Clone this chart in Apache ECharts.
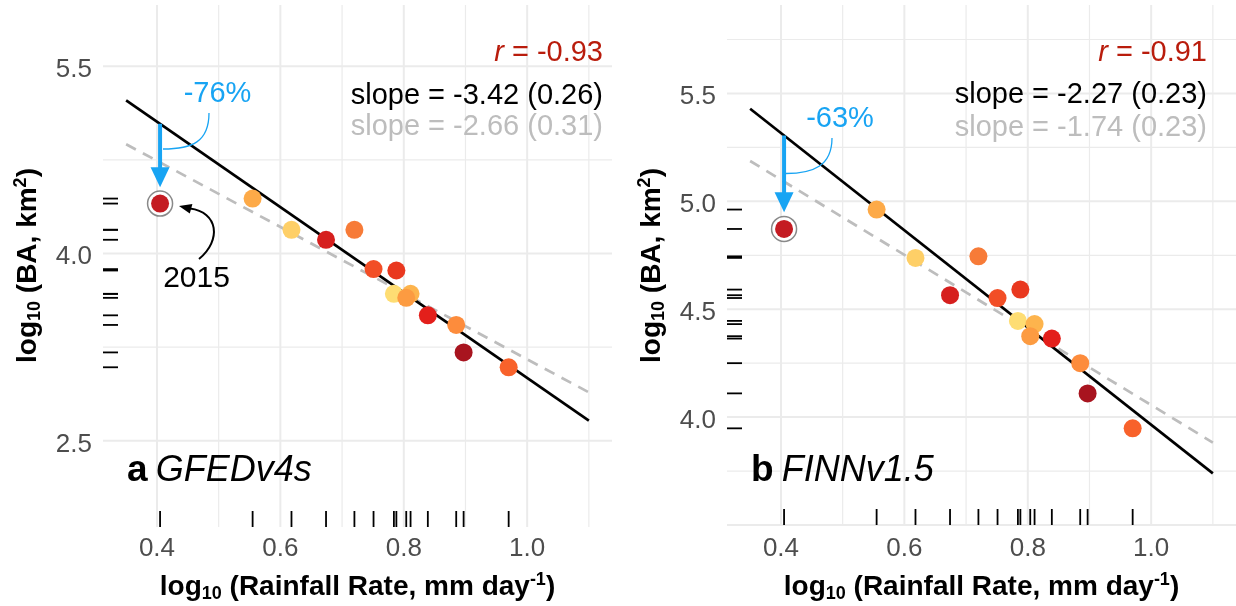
<!DOCTYPE html>
<html><head><meta charset="utf-8">
<script src="https://cdn.jsdelivr.net/npm/echarts@6/dist/echarts.min.js"></script>
<style>html,body{margin:0;padding:0;background:#fff}#c{width:1236px;height:606px}</style>
</head><body><div id="c"></div>
<script>
// ---------- data ----------
const rainfall = [0.405, 0.555, 0.618, 0.674, 0.720, 0.751, 0.788, 0.784, 0.811, 0.804, 0.839, 0.885, 0.897, 0.970];
const baGFED   = [4.40, 4.44, 4.19, 4.11, 4.19, 3.875, 3.864, 3.677, 3.677, 3.645, 3.505, 3.428, 3.208, 3.089];
const baFINN   = [4.872, 4.962, 4.738, 4.565, 4.745, 4.552, 4.591, 4.446, 4.431, 4.375, 4.364, 4.250, 4.110, 3.948];
const pointColors = ['#c41b22', '#fdaa48', '#fecf67', '#d61f1e', '#f77b38', '#f24e26', '#e9381f',
                     '#fedd73', '#fdb44d', '#fc9b41', '#e31f1b', '#fd8c3c', '#a8141f', '#f8622b'];
const highlightIndex = 0; // 2015
const fitX = [0.35, 1.1];
const gfedFitAll = [5.227, 2.661];
const gfedFitNo2015 = [4.875, 2.888];
const finnFitAll = [5.429, 3.739];
const finnFitNo2015 = [5.187, 3.882];
const gfedArrowEnd = 4.53;
const finnArrowEnd = 4.95;
const xTicks = [0.4, 0.6, 0.8, 1.0];
const xMinor = [0.5, 0.7, 0.9, 1.1];
const gfedYTicks = [2.5, 4.0, 5.5];
const gfedYMinor = [3.25, 4.75];
const finnYTicks = [4.0, 4.5, 5.0, 5.5];
const finnYExtraMajor = [3.5];
const finnYMinor = [3.75, 4.25, 4.75, 5.25, 5.75];
const gfedStats = ['-0.93', '-3.42 (0.26)', '-2.66 (0.31)'];
const finnStats = ['-0.91', '-2.27 (0.23)', '-1.74 (0.23)'];
const gfedChange = '-76%';
const finnChange = '-63%';
const highlightYear = '2015';
const panelNames = [['a', 'GFEDv4s'], ['b', 'FINNv1.5']];

// ---------- layout ----------
const FONT = 'Liberation Sans, Arial, Helvetica, sans-serif';
const BLUE = '#18a4f3';
const panels = [
  {ba: baGFED, fitAll: gfedFitAll, fitNo: gfedFitNo2015, arrowEnd: gfedArrowEnd,
   yMin: 1.81, yMax: 5.99, yTicks: gfedYTicks, yMajorExtra: [], yMinor: gfedYMinor,
   grid: {left: 103, top: 5, width: 509, height: 522}, xLabelMargin: 9},
  {ba: baFINN, fitAll: finnFitAll, fitNo: finnFitNo2015, arrowEnd: finnArrowEnd,
   yMin: 3.5, yMax: 5.91, yTicks: finnYTicks, yMajorExtra: finnYExtraMajor, yMinor: finnYMinor,
   grid: {left: 727, top: 5, width: 509, height: 520}, xLabelMargin: 11}
];

function renderGrid(params, api) {
  const cs = params.coordSys;
  const v = api.value(0), dir = api.value(1), major = api.value(2);
  const w = major ? 2 : 1.2;
  if (dir === 0) {
    const x = api.coord([v, 0])[0];
    return {type: 'line', shape: {x1: x, y1: cs.y, x2: x, y2: cs.y + cs.height}, style: {stroke: '#ebebeb', lineWidth: w}};
  }
  const y = api.coord([0.5, v])[1];
  return {type: 'line', shape: {x1: cs.x, y1: y, x2: cs.x + cs.width, y2: y}, style: {stroke: '#ebebeb', lineWidth: w}};
}
function renderRug(params, api) {
  const cs = params.coordSys;
  const p = api.coord([api.value(0), api.value(1)]);
  const bottom = cs.y + cs.height;
  return {type: 'group', children: [
    {type: 'line', shape: {x1: p[0], y1: bottom, x2: p[0], y2: bottom - 16}, style: {stroke: '#000', lineWidth: 1.8}},
    {type: 'line', shape: {x1: cs.x, y1: p[1], x2: cs.x + 15, y2: p[1]}, style: {stroke: '#000', lineWidth: 1.8}}
  ]};
}
function renderArrow(params, api) {
  const p0 = api.coord([api.value(0), api.value(1)]);
  const p1 = api.coord([api.value(0), api.value(2)]);
  const head = 20, half = 9.5;
  return {type: 'group', children: [
    {type: 'line', shape: {x1: p0[0], y1: p0[1], x2: p1[0], y2: p1[1] - head + 2}, style: {stroke: BLUE, lineWidth: 4}},
    {type: 'polygon', shape: {points: [[p1[0], p1[1]], [p1[0] - half, p1[1] - head], [p1[0] + half, p1[1] - head]]}, style: {fill: BLUE}}
  ]};
}

const labelRich = {v: {fontSize: 26, color: '#4d4d4d', fontFamily: FONT, padding: [7, 0, 0, 0]}};
const grids = [], xAxes = [], yAxes = [], series = [];
panels.forEach((pn, i) => {
  grids.push(pn.grid);
  xAxes.push({gridIndex: i, type: 'value', min: 0.3125, max: 1.1375,
    splitLine: {show: false}, axisLine: {show: false}, axisTick: {show: false},
    axisLabel: {customValues: xTicks, formatter: v => v.toFixed(1), fontSize: 26, color: '#4d4d4d', fontFamily: FONT, margin: pn.xLabelMargin}});
  yAxes.push({gridIndex: i, type: 'value', min: pn.yMin, max: pn.yMax,
    splitLine: {show: false}, axisLine: {show: false}, axisTick: {show: false},
    axisLabel: {customValues: pn.yTicks, formatter: v => '{v|' + v.toFixed(1) + '}', rich: labelRich,
      fontSize: 26, color: '#4d4d4d', fontFamily: FONT, margin: 11}});
  const gridItems = [].concat(
    xTicks.map(v => [v, 0, 1]), xMinor.map(v => [v, 0, 0]),
    pn.yTicks.map(v => [v, 1, 1]), pn.yMajorExtra.map(v => [v, 1, 1]), pn.yMinor.map(v => [v, 1, 0]));
  series.push({type: 'custom', xAxisIndex: i, yAxisIndex: i, z: 0, silent: true, renderItem: renderGrid, data: gridItems});
  series.push({type: 'line', xAxisIndex: i, yAxisIndex: i, z: 2, symbol: 'none', silent: true,
    lineStyle: {color: '#bdbdbd', width: 2.7, type: [11, 8]}, data: fitX.map((x, k) => [x, pn.fitNo[k]])});
  series.push({type: 'line', xAxisIndex: i, yAxisIndex: i, z: 2, symbol: 'none', silent: true,
    lineStyle: {color: '#000', width: 2.7}, data: fitX.map((x, k) => [x, pn.fitAll[k]])});
  const hx = rainfall[highlightIndex];
  const fitAtHx = pn.fitAll[0] + (pn.fitAll[1] - pn.fitAll[0]) * (hx - fitX[0]) / (fitX[1] - fitX[0]);
  series.push({type: 'custom', xAxisIndex: i, yAxisIndex: i, z: 5, silent: true, renderItem: renderArrow,
    data: [[hx, fitAtHx, pn.arrowEnd]]});
  series.push({type: 'scatter', xAxisIndex: i, yAxisIndex: i, z: 3, silent: true, symbolSize: 25,
    itemStyle: {color: '#fff', borderColor: '#6b6b6b', borderWidth: 1.5},
    data: [[hx, pn.ba[highlightIndex]]]});
  series.push({type: 'scatter', xAxisIndex: i, yAxisIndex: i, z: 4, silent: true, symbolSize: 18,
    data: rainfall.map((x, k) => ({value: [x, pn.ba[k]], itemStyle: {color: pointColors[k], opacity: 1}}))});
  series.push({type: 'custom', xAxisIndex: i, yAxisIndex: i, z: 4, silent: true, renderItem: renderRug,
    data: rainfall.map((x, k) => [x, pn.ba[k]])});
});

// ---------- text and annotations ----------
function txt(x, y, text, opts) {
  return Object.assign({type: 'text', x: x, y: y, z: 10, silent: true,
    style: Object.assign({text: text, fontFamily: FONT, fontSize: 29, fill: '#000', align: 'right', verticalAlign: 'middle'}, opts || {})});
}
function tok(size, weight, style, extra) {
  return Object.assign({fontFamily: FONT, fontSize: size, fontWeight: weight, fontStyle: style, fill: '#000'}, extra || {});
}
const titleRich = {
  b: tok(28, 'bold', 'normal', {lineHeight: 32}),
  sub: tok(18, 'bold', 'normal', {lineHeight: 18, verticalAlign: 'bottom'}),
  sup: tok(18, 'bold', 'normal', {lineHeight: 18, verticalAlign: 'top'})
};
const graphics = [];
[[panels[0], gfedStats, 603, gfedChange, 217.5, 93.5], [panels[1], finnStats, 1207, finnChange, 840, 119]].forEach((d, i) => {
  const st = d[1], rx = d[2];
  const rRich = {i: tok(29, 'normal', 'italic', {fill: '#b91c0c'}), n: tok(29, 'normal', 'normal', {fill: '#b91c0c'})};
  graphics.push(txt(rx, 53, '{i|r}{n| = ' + st[0] + '}', {rich: rRich}));
  graphics.push(txt(rx, 96 - i, 'slope = ' + st[1]));
  graphics.push(txt(rx, 127 + i, 'slope = ' + st[2], {fill: '#bdbdbd'}));
  graphics.push(txt(d[4], d[5], d[3], {fill: BLUE, align: 'center'}));
  const off = i === 0 ? 0 : 624;
  const nm = panelNames[i];
  graphics.push(txt(127 + off, 471, '{a|' + nm[0] + '} {n|' + nm[1] + '}', {align: 'left',
    rich: {a: tok(37, 'bold', 'normal'), n: tok(36, 'normal', 'italic')}}));
  graphics.push(txt(357.5 + off, 587, '{b|log}{sub|10}{b| (Rainfall Rate, mm day}{sup|-1}{b|)}', {align: 'center', rich: titleRich, lineHeight: 32}));
  graphics.push(Object.assign(txt(28.5 + off, 265.5, '{b|log}{sub|10}{b| (BA, km}{sup|2}{b|)}', {align: 'center', rich: titleRich, lineHeight: 32}), {rotation: Math.PI / 2}));
});
// blue connector curves
graphics.push({type: 'bezierCurve', z: 10, silent: true, shape: {x1: 209, y1: 113, cpx1: 209, cpy1: 142, cpx2: 192, cpy2: 149, x2: 163, y2: 149},
  style: {stroke: BLUE, lineWidth: 1.3, fill: null}});
graphics.push({type: 'bezierCurve', z: 10, silent: true, shape: {x1: 832, y1: 138, cpx1: 832, cpy1: 166, cpx2: 813, cpy2: 173.5, x2: 786, y2: 173.5},
  style: {stroke: BLUE, lineWidth: 1.3, fill: null}});
// 2015 label and arrow
graphics.push(txt(196.5, 278.5, highlightYear, {align: 'center', fontSize: 30}));
graphics.push({type: 'bezierCurve', z: 10, silent: true, shape: {x1: 199, y1: 259, cpx1: 222, cpy1: 240, cpx2: 218, cpy2: 212, x2: 190, y2: 208.5},
  style: {stroke: '#000', lineWidth: 2, fill: null}});
graphics.push({type: 'polygon', z: 10, silent: true, shape: {points: [[179, 206], [192.4, 204.0], [189.8, 213.6]]}, style: {fill: '#000'}});

const chart = echarts.init(document.getElementById('c'), null, {renderer: 'canvas'});
chart.setOption({animation: false, backgroundColor: '#fff', grid: grids, xAxis: xAxes, yAxis: yAxes, series: series, graphic: graphics});
</script></body></html>
